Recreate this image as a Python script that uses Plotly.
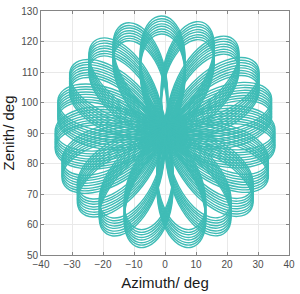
import plotly.graph_objects as go
import math

# ---- data ----
# petal axis directions, degrees clockwise from "up" (zenith increasing)
petal_angles_deg = [-2.0, 20.0, 38.3, 56.5, 74.8, 93.0, 111.3, 129.5, 147.8, 166.0,
                    194.0, 212.0, 230.0, 248.0, 266.0, 284.0, 302.0, 320.0, 338.0]
petal_reach = [35.5] * 19
copy_zenith_centres = [87.0, 87.8, 88.6, 89.5, 90.3, 91.2, 92.0, 92.9]
copy_azimuth_centres = [0.0] * 8
# normalised petal outline (u along petal axis, v across), half petal, origin -> tip
petal_u = [0.0, 0.133, 0.274, 0.414, 0.549, 0.677, 0.786, 0.876, 0.946, 0.986, 1.0]
petal_v = [0.0, 0.076, 0.137, 0.178, 0.200, 0.202, 0.186, 0.155, 0.109, 0.057, 0.0]
x_ticks = [-40, -30, -20, -10, 0, 10, 20, 30, 40]
y_ticks = [50, 60, 70, 80, 90, 100, 110, 120, 130]

loop_u = petal_u + petal_u[::-1][1:]
loop_v = petal_v + [-v for v in petal_v[::-1][1:]]

xs, ys = [], []
for xc, zc in zip(copy_azimuth_centres, copy_zenith_centres):
    for ang, L in zip(petal_angles_deg, petal_reach):
        a = math.radians(ang)
        dx, dy = math.sin(a), math.cos(a)
        nx, ny = math.cos(a), -math.sin(a)
        for u, v in zip(loop_u, loop_v):
            xs.append(xc + L * (u * dx + v * nx))
            ys.append(zc + L * (u * dy + v * ny))
        xs.append(None)
        ys.append(None)

fig = go.Figure()
fig.add_trace(go.Scatter(x=xs, y=ys, mode="lines", line_shape="spline",
                         line=dict(color="#3fbcb6", width=1.4), hoverinfo="skip",
                         showlegend=False))

axis_common = dict(showline=True, linecolor="#858585", linewidth=1, mirror="allticks",
                   ticks="inside", ticklen=3, tickcolor="#858585",
                   showgrid=True, gridcolor="#e9e9e9", gridwidth=1, zeroline=False,
                   ticklabeloverflow="allow",
                   tickfont=dict(family="Liberation Sans, Arial", size=10, color="#4d4d4d"))
fig.update_layout(
    width=300, height=294,
    margin=dict(l=41, r=7, t=5, b=38),
    paper_bgcolor="white", plot_bgcolor="white",
    xaxis=dict(range=[-40, 40], tickvals=x_ticks,
               title=dict(text="Azimuth/ deg", standoff=8,
                          font=dict(family="Liberation Sans, Arial", size=15, color="#1a1a1a")),
               **axis_common),
    yaxis=dict(range=[50, 130], tickvals=y_ticks,
               title=dict(text="Zenith/ deg", standoff=4,
                          font=dict(family="Liberation Sans, Arial", size=15, color="#1a1a1a")),
               **axis_common),
)
fig.write_html("out.html")
